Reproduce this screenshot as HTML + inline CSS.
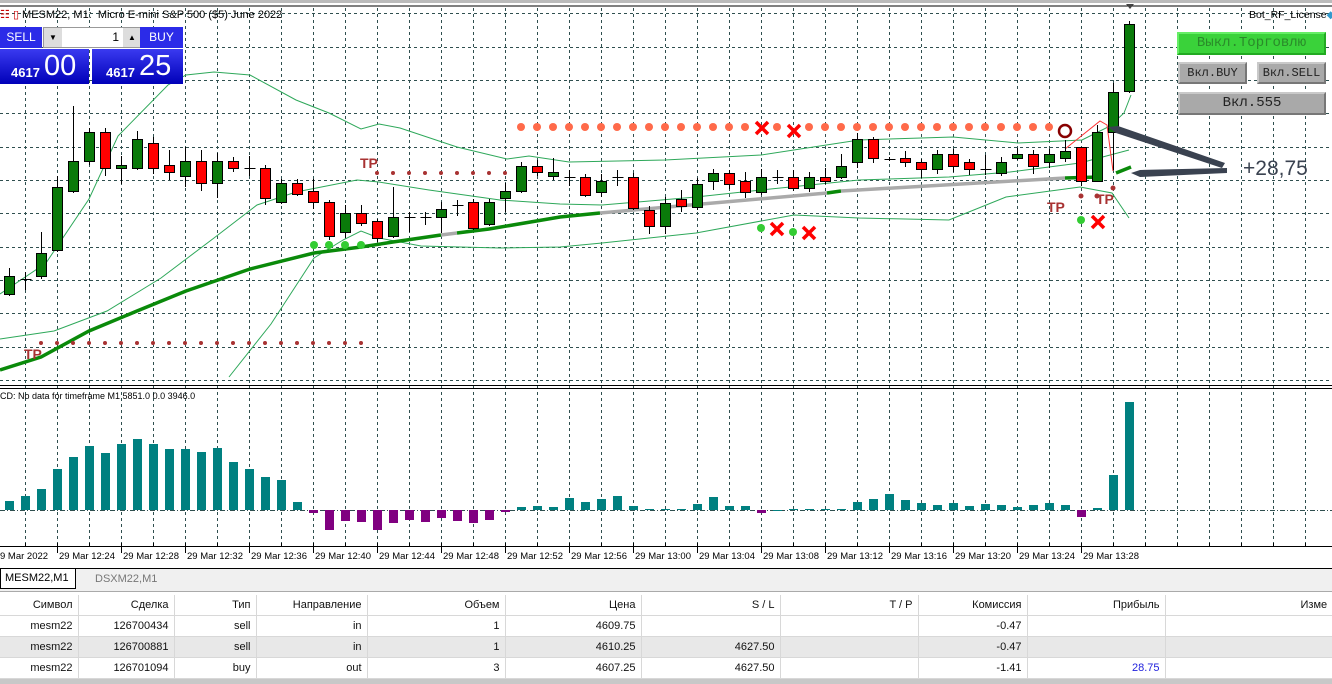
<!DOCTYPE html>
<html><head><meta charset="utf-8"><style>
body{margin:0;width:1332px;height:684px;overflow:hidden;background:#fff;font-family:"Liberation Sans",sans-serif;position:relative}
.abs{position:absolute}
.btn{position:absolute;font-family:"Liberation Mono",monospace;text-align:center;color:#222;background:#a9a9a9;border:2px solid #c9c9c9;border-right-color:#777;border-bottom-color:#777;box-sizing:border-box}
table{border-collapse:collapse;font-size:11px;position:absolute;left:0;top:595px;width:1332px;table-layout:fixed}
td{height:20px;padding:0 5px 0 0;text-align:right;border-right:1px solid #d8d8d8;border-bottom:1px solid #d8d8d8;color:#111;white-space:nowrap;overflow:hidden}
</style></head><body>
<svg id="s" class="abs" style="left:0;top:0" width="1332" height="590" xmlns="http://www.w3.org/2000/svg"></svg>
<div class="abs" style="left:0;top:0;width:1332px;height:3px;background:#bbb"></div>
<div class="abs" style="left:0;top:8px;font-size:11px;color:#000;white-space:nowrap"><span style="color:#c00">☷</span> <span style="color:#c00">▯</span> MESM22, M1:&nbsp; Micro E-mini S&amp;P 500 ($5) June 2022</div>
<div class="abs" style="left:1249px;top:9px;font-size:10.5px;color:#000;white-space:nowrap">Bot_RF_License<span style="color:#39c">◆</span></div>
<div class="abs" style="left:0;top:27px;width:42px;height:21px;background:#2b2be8;color:#fff;font-size:12px;text-align:center;line-height:21px">SELL</div>
<div class="abs" style="left:43px;top:27px;width:97px;height:19px;background:#fff;border:1px solid #999"><div class="abs" style="left:0;top:0;width:18px;height:19px;background:#ddd;font-size:8px;text-align:center;line-height:19px">▼</div><div class="abs" style="right:22px;top:2px;font-size:12px">1</div><div class="abs" style="right:0;top:0;width:18px;height:19px;background:#ddd;font-size:8px;text-align:center;line-height:19px">▲</div></div>
<div class="abs" style="left:140px;top:27px;width:43px;height:21px;background:#2b2be8;color:#fff;font-size:12px;text-align:center;line-height:21px">BUY</div>
<div class="abs" style="left:0;top:49px;width:89px;height:35px;background:linear-gradient(#3a3af0,#0000b8);color:#fff"><span class="abs" style="left:11px;top:16px;font-size:13px;font-weight:bold">4617</span><span class="abs" style="left:44px;top:1px;font-size:29px">00</span></div>
<div class="abs" style="left:92px;top:49px;width:91px;height:35px;background:linear-gradient(#3a3af0,#0000b8);color:#fff"><span class="abs" style="left:14px;top:16px;font-size:13px;font-weight:bold">4617</span><span class="abs" style="left:47px;top:1px;font-size:29px">25</span></div>
<div class="btn" style="left:1177px;top:32px;width:149px;height:23px;background:#3ad23a;border-color:#6e6 #2a2 #2a2 #6e6;color:#2a8a2a;font-size:14px;line-height:19px">Выкл.Торговлю</div>
<div class="btn" style="left:1178px;top:62px;width:69px;height:22px;font-size:12px;line-height:18px">Вкл.BUY</div>
<div class="btn" style="left:1257px;top:62px;width:69px;height:22px;font-size:12px;line-height:18px">Вкл.SELL</div>
<div class="btn" style="left:1178px;top:92px;width:148px;height:23px;font-size:14px;line-height:19px">Вкл.555</div>
<div class="abs" style="left:1243px;top:157px;font-size:21px;color:#3a4250">+28,75</div>
<div class="abs" style="left:0;top:391px;font-size:9px;color:#000">CD: No data for timeframe M1 5851.0 0.0 3946.0</div>
<div class="abs" style="left:0;top:568px;width:1332px;height:22px;background:#f0f0f0;border-top:1px solid #000;border-bottom:1px solid #aaa"></div>
<div class="abs" style="left:0;top:569px;width:70px;height:19px;background:#fff;border:1px solid #000;border-top:none;font-size:11px;line-height:19px;padding-left:4px">MESM22,M1</div>
<div class="abs" style="left:95px;top:569px;font-size:11px;line-height:20px;color:#777">DSXM22,M1</div>
<table>
<colgroup><col style="width:78px"><col style="width:96px"><col style="width:82px"><col style="width:111px"><col style="width:138px"><col style="width:136px"><col style="width:139px"><col style="width:138px"><col style="width:109px"><col style="width:138px"><col></colgroup>
<tr><td>Символ</td><td>Сделка</td><td>Тип</td><td>Направление</td><td>Объем</td><td>Цена</td><td>S / L</td><td>T / P</td><td>Комиссия</td><td>Прибыль</td><td style="border-right:none;text-align:left;padding-left:135px">Изме</td></tr>
<tr><td>mesm22</td><td>126700434</td><td>sell</td><td>in</td><td>1</td><td>4609.75</td><td></td><td></td><td>-0.47</td><td></td><td style="border-right:none"></td></tr>
<tr style="background:#e8e8e8"><td>mesm22</td><td>126700881</td><td>sell</td><td>in</td><td>1</td><td>4610.25</td><td>4627.50</td><td></td><td>-0.47</td><td></td><td style="border-right:none"></td></tr>
<tr><td>mesm22</td><td>126701094</td><td>buy</td><td>out</td><td>3</td><td>4607.25</td><td>4627.50</td><td></td><td>-1.41</td><td style="color:#22d">28.75</td><td style="border-right:none"></td></tr>
</table>
<div class="abs" style="left:0;top:679px;width:1332px;height:5px;background:#c8c8c8"></div>
<script>
var s=document.getElementById('s'),h='';
function L(x1,y1,x2,y2,c,w,d){h+='<line x1="'+x1+'" y1="'+y1+'" x2="'+x2+'" y2="'+y2+'" stroke="'+c+'" stroke-width="'+(w||1)+'"'+(d?' stroke-dasharray="'+d+'"':'')+'/>';}
function P(pts,c,w){h+='<polyline fill="none" points="'+pts+'" stroke="'+c+'" stroke-width="'+w+'"/>';}
L(0,6,1332,6,'#000',1);
for(var k=0;k<42;k++){var x=25+32*k+.5;L(x,8,x,546,'#2f4f4f',1,'3,3');}
for(var y=13.3;y<385;y+=33.33){L(0,Math.round(y)+.5,1332,Math.round(y)+.5,'#2f4f4f',1,'3,3');}
L(0,385.5,1332,385.5,'#000',1);L(0,388.5,1332,388.5,'#000',1);
L(0,510.5,1332,510.5,'#2f4f4f',1,'5,2,1,2');
P('0,294 46,263 89,199 118,136 168,85 186,75 214,72 250,75 296,100 329,113 361,129 379,124 400,128 457,147 507,159 529,156 569,162 665,160 761,155 859,140 953,137 1018,143 1082,140 1110,126 1124,113 1131,95','#2ea85a',1);
P('0,339 54,331 107,311 161,278 214,238 257,205 296,192 357,180 379,182 429,190 500,200 560,204 602,205 696,197 761,190 859,180 949,177 1010,172 1080,163 1129,150','#2ea85a',1);
P('229,377 271,324 314,258 343,240 361,231 379,238 421,246 500,248 560,247 602,243 696,233 794,215 859,218 949,220 1006,197 1080,187 1112,193 1129,218','#2ea85a',1);
P('0,370 41,357 89,331 137,311 186,291 250,269 314,253 361,247 393,242 441,235','#0a8a0a',3.5);
P('441,235 457,233','#aaa',3.5);P('457,233 489,229 560,217 600,213','#0a8a0a',3.5);
P('600,213 827,193','#aaa',3.5);P('827,193 841,191','#0a8a0a',3.5);P('841,191 1065,178','#aaa',3.5);
P('1065,178 1100,177','#0a8a0a',3.5);P('1116,173 1131,167','#0a8a0a',3.5);
for(var x=521;x<=1050;x+=16){if(x==761||x==793)continue;h+='<circle cx="'+x+'" cy="127" r="4" fill="#ff6a4a"/>';}
for(var x=377;x<=505;x+=16)h+='<circle cx="'+x+'" cy="173" r="2" fill="#a83232"/>';
for(var x=41;x<=361;x+=16)h+='<circle cx="'+x+'" cy="343" r="2" fill="#a83232"/>';
[[314,245],[329,245],[345,245],[361,245],[761,228],[793,232],[1081,220]].forEach(function(p){h+='<circle cx="'+p[0]+'" cy="'+p[1]+'" r="4" fill="#3c3"/>';});
[[762,128],[794,131],[777,229],[809,233],[1098,222]].forEach(function(p){var x=p[0],y=p[1];L(x-6,y-6,x+6,y+6,'#f00',3.5);L(x-6,y+6,x+6,y-6,'#f00',3.5);});
[[1081,196],[1097,196],[1113,188]].forEach(function(p){h+='<circle cx="'+p[0]+'" cy="'+p[1]+'" r="2.5" fill="#a83232"/>';});
function T(x,y){h+='<text x="'+x+'" y="'+y+'" font-family="Liberation Sans" font-weight="bold" font-size="14" fill="#a83232">TP</text>';}
T(360,168);T(24,359);T(1047,212);T(1096,204);
h+='<circle cx="1065" cy="131" r="6" fill="none" stroke="#800" stroke-width="2.5"/>';
P('1065,149 1100,121 1107,125 1113,171','#f33',1);
var C=[['g',276,294,268,296],['d',279,279,272,290],['g',253,276,232,279],['g',187,250,176,252],['g',161,191,106,193],['g',132,161,128,165],['r',132,168,128,176],['g',165,168,156,184],['g',139,168,131,170],['r',143,168,137,174],['r',165,172,150,180],['g',161,176,147,187],['r',161,183,150,191],['g',161,183,153,198],['r',161,168,157,172],['d',168,168,156,176],['r',168,198,165,205],['g',183,202,179,204],['r',183,194,179,196],['r',191,202,179,209],['r',202,236,200,240],['g',213,232,205,238],['r',213,223,205,226],['r',221,238,219,242],['g',217,236,187,238],['d',217,217,212,232],['d',217,217,212,225],['g',209,217,202,233],['d',205,205,200,216],['r',202,228,199,230],['g',202,224,199,226],['g',191,198,183,212],['g',166,191,162,193],['r',166,172,160,176],['g',172,176,158,180],['d',177,177,170,186],['r',177,195,174,197],['g',181,192,174,197],['d',177,177,170,186],['r',177,208,173,210],['r',210,226,206,234],['g',203,226,197,234],['r',199,206,190,212],['g',184,207,178,210],['g',173,181,169,190],['r',173,184,170,189],['r',181,192,172,198],['g',177,192,169,195],['d',177,177,170,184],['r',177,188,170,191],['g',177,188,172,192],['r',177,181,168,184],['g',166,177,154,179],['g',139,162,133,168],['r',139,158,137,163],['d',159,159,157,161],['r',158,162,151,167],['r',162,169,159,178],['g',154,169,150,174],['r',154,166,149,172],['r',162,169,159,175],['d',169,169,155,175],['g',162,173,157,176],['g',154,158,148,160],['r',154,166,150,174],['g',154,162,149,168],['g',151,158,140,162],['r',147,181,147,186],['g',132,181,125,181],['g',92,132,83,170],['g',24,91,21,93]];
C.forEach(function(c,k){var x=9+16*k+.5;L(x,c[3],x,c[4],'#000',1);
 if(c[0]=='d'){L(x-5,c[1]+.5,x+6,c[1]+.5,'#000',1);}
 else h+='<rect x="'+(x-5)+'" y="'+c[1]+'.5" width="10" height="'+Math.max(c[2]-c[1],2)+'" fill="'+(c[0]=='g'?'#0a7a0a':'#f00')+'" stroke="#000" stroke-width="1"/>';});
h+='<polygon points="1126,4 1134,4 1130,9" fill="#444"/>';
h+='<polygon points="1225,163 1118,126 1108,127 1116,133 1222,168" fill="#3a4250"/>';
h+='<polygon points="1227,168 1140,170 1131,173 1140,177 1227,173" fill="#3a4250"/>';
var H=[501,496,489,469,457,446,453,444,439,444,449,449,452,448,462,469,477,480,502,513,530,521,522,530,523,520,522,518,521,523,520,512,507,506,507,498,502,499,496,506,509,509,509,504,497,506,506,513,510,509,509,509,509,502,499,494,500,503,505,503,506,504,505,507,505,503,505,517,508,475,402];
H.forEach(function(v,k){var x=9+16*k-4,neg=v>510;h+='<rect x="'+x+'" y="'+(neg?510:v)+'" width="9" height="'+Math.max(Math.abs(v-510),1)+'" fill="'+(neg?'#800080':'#008080')+'"/>';});
L(0,546.5,1332,546.5,'#000',1);
var lab=['9 Mar 2022','29 Mar 12:24','29 Mar 12:28','29 Mar 12:32','29 Mar 12:36','29 Mar 12:40','29 Mar 12:44','29 Mar 12:48','29 Mar 12:52','29 Mar 12:56','29 Mar 13:00','29 Mar 13:04','29 Mar 13:08','29 Mar 13:12','29 Mar 13:16','29 Mar 13:20','29 Mar 13:24','29 Mar 13:28'];
for(var x=25;x<1332;x+=32)L(x+.5,543,x+.5,547,'#000',1);
lab.forEach(function(t,i){var x=i==0?0:57+64*(i-1);if(i>0)L(x+.5,547,x+.5,553,'#000',1);h+='<text x="'+(i==0?0:x+2)+'" y="559" font-family="Liberation Sans" font-size="9.5" fill="#000">'+t+'</text>';});
s.innerHTML=h;
</script>
</body></html>
